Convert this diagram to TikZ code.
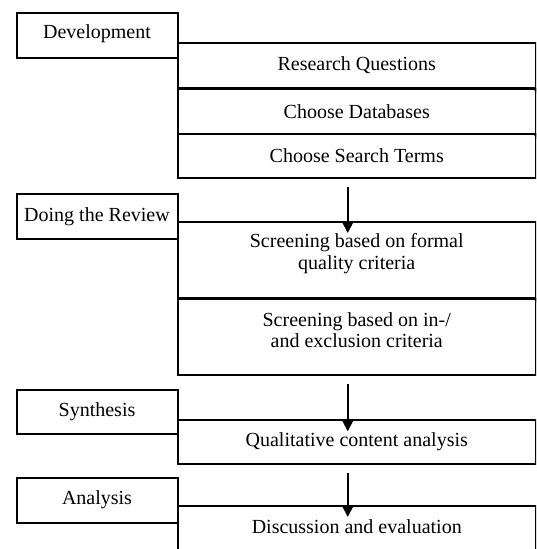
\documentclass[tikz,border=0pt]{standalone}
\usepackage{fontspec}
\setmainfont{Liberation Serif}
\usetikzlibrary{arrows.meta,calc}
\begin{document}
\begin{tikzpicture}[x=1pt,y=-1pt,
  every node/.style={font=\fontsize{20}{21.5}\selectfont},
  stagebox/.style={draw,line width=2pt,anchor=north west,minimum width=161pt,inner sep=0pt,align=center},
  contentbox/.style={draw,line width=2pt,anchor=north west,minimum width=358.5pt,inner sep=0pt,align=center},
  arr/.style={line width=2pt,-{Triangle[width=12pt,length=12pt]}}]
\useasboundingbox (0,0) rectangle (536,549);
\clip (0,0) rectangle (536,549);
% stage boxes
\node[stagebox,minimum height=44.5pt,text depth=7pt] (dev) at (15.5,12) {Development};
\node[stagebox,minimum height=45.6pt] (rev) at (15.5,192.7) {Doing the Review};
\node[stagebox,minimum height=44.3pt] (syn) at (15.5,389) {Synthesis};
\node[stagebox,minimum height=45pt] (ana) at (15.5,476.7) {Analysis};
% content boxes
\node[contentbox,minimum height=44.8pt] (rq) at (176.5,41.7) {Research Questions};
\node[contentbox,minimum height=44.7pt] (cd) at (176.5,88) {Choose Databases};
\node[contentbox,minimum height=43.4pt] (cst) at (176.5,133.3) {Choose Search Terms};
\node[contentbox,minimum height=76pt,text depth=17pt] (sf) at (176.5,221) {Screening based on formal\\quality criteria};
\node[contentbox,minimum height=76.5pt,text depth=13.8pt] (si) at (176.5,297.5) {Screening based on in-/\\and exclusion criteria};
\node[contentbox,minimum height=43.4pt] (qc) at (176.5,419.3) {Qualitative content analysis};
\node[contentbox,minimum height=47pt,text depth=6pt] (de) at (176.5,505) {Discussion and evaluation};
% main arrows
\draw[arr] ($(cst.south)+(-9,8)$) -- ($(sf.north)+(-9,12)$);
\draw[arr] ($(si.south)+(-9,8)$) -- ($(qc.north)+(-9,12)$);
\draw[arr] ($(qc.south)+(-9,8)$) -- ($(de.north)+(-9,12)$);
% partly hidden arrows on the right edge
\draw[arr] ($(rq.south east)+(2.5,-12)$) -- ($(cd.north east)+(2.5,12)$);
\draw[arr] ($(cd.south east)+(2.5,-12)$) -- ($(cst.north east)+(2.5,12)$);
\draw[arr] ($(sf.south east)+(2.5,-12)$) -- ($(si.north east)+(2.5,12)$);
\end{tikzpicture}
\end{document}
